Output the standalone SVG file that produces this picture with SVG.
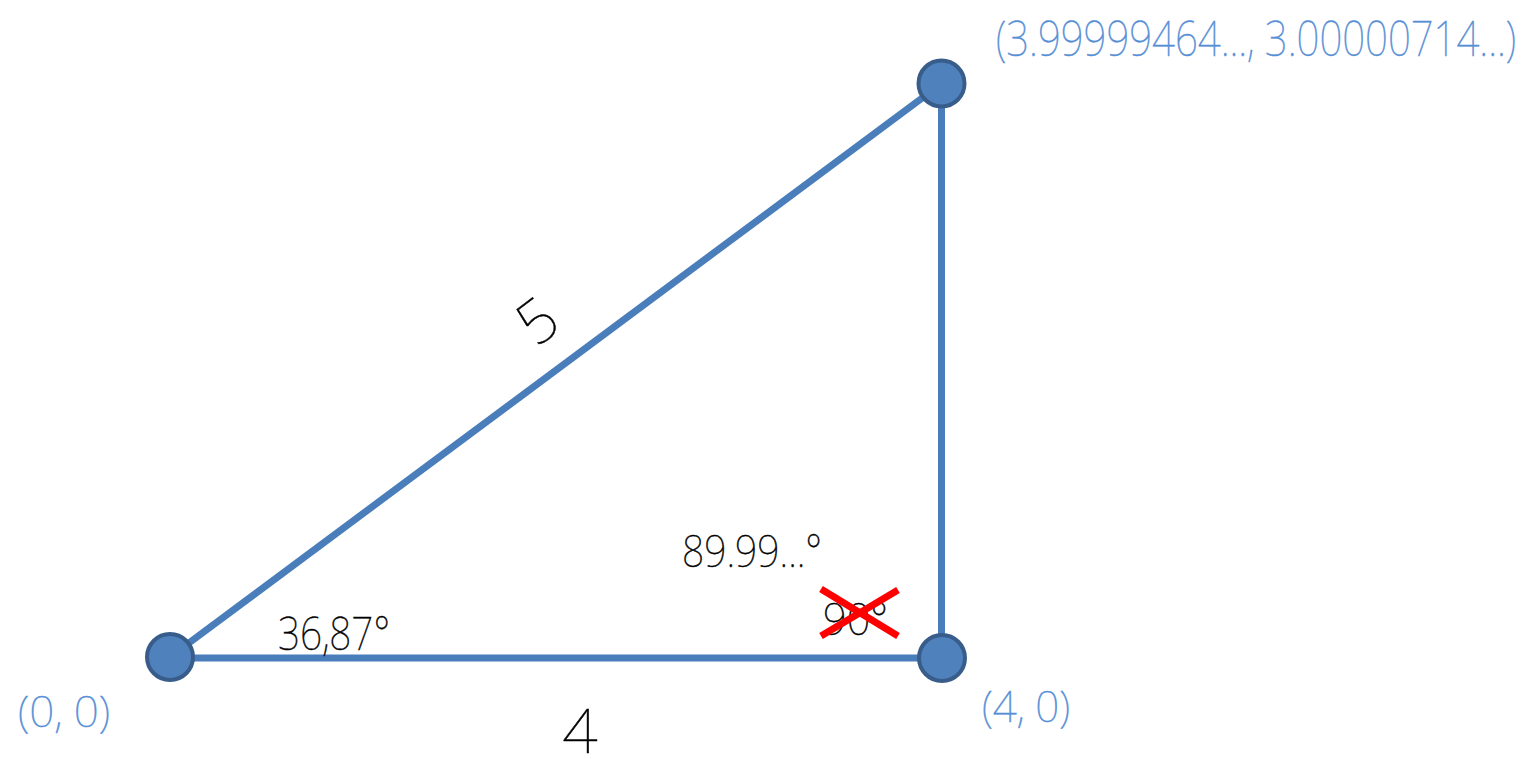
<svg xmlns="http://www.w3.org/2000/svg" width="1527" height="759" viewBox="0 0 1527 759">
<style>
.edge{stroke:#4a7ebb;stroke-width:7;fill:none;stroke-linecap:butt}
.pt{fill:#4f81bd;stroke:#385d8a;stroke-width:4}
.coord{font-family:"Noto Sans",Roboto,sans-serif;font-weight:100;fill:#558ed5;stroke:#558ed5;stroke-width:0.5}
.lbl{font-family:"Noto Sans",Roboto,sans-serif;font-weight:100;fill:#000;stroke:#000;stroke-width:0.5}
.cross{stroke:#ff0000;stroke-width:7}
</style>
<rect width="1527" height="759" fill="#fff"/>
<g id="connectors">
<line class="edge" x1="170" y1="657" x2="941" y2="84"/>
<line class="edge" x1="170" y1="658" x2="942" y2="658"/>
<line class="edge" x1="941.5" y1="84" x2="941.5" y2="658"/>
</g>
<g id="node-origin">
<circle class="pt" cx="170" cy="657" r="23"/>
<text class="coord" x="18" y="727" font-size="42" textLength="92" lengthAdjust="spacingAndGlyphs">(0, 0)</text>
</g>
<g id="node-b">
<circle class="pt" cx="942" cy="658" r="23"/>
<text class="coord" x="982" y="722" font-size="42" textLength="88" lengthAdjust="spacingAndGlyphs">(4, 0)</text>
</g>
<g id="node-c">
<circle class="pt" cx="941.5" cy="83.5" r="23"/>
<text class="coord" x="996" y="56" font-size="48" textLength="520" lengthAdjust="spacingAndGlyphs">(3.99999464..., 3.00000714...)</text>
</g>
<g id="labels">
<text class="lbl" x="278" y="650" font-size="46" textLength="112" lengthAdjust="spacingAndGlyphs">36,87°</text>
<text class="lbl" x="682" y="567" font-size="44" textLength="140" lengthAdjust="spacingAndGlyphs">89.99...°</text>
<text class="lbl" x="823" y="635" font-size="44" textLength="65" lengthAdjust="spacingAndGlyphs">90°</text>
<text class="lbl" x="580" y="753" font-size="62" text-anchor="middle">4</text>
<text class="lbl" x="0" y="0" font-size="60" text-anchor="middle" transform="translate(550 338) rotate(-37)">5</text>
</g>
<g id="strike">
<line class="cross" x1="821" y1="589" x2="898" y2="636"/>
<line class="cross" x1="821" y1="636" x2="898" y2="590"/>
</g>
</svg>
